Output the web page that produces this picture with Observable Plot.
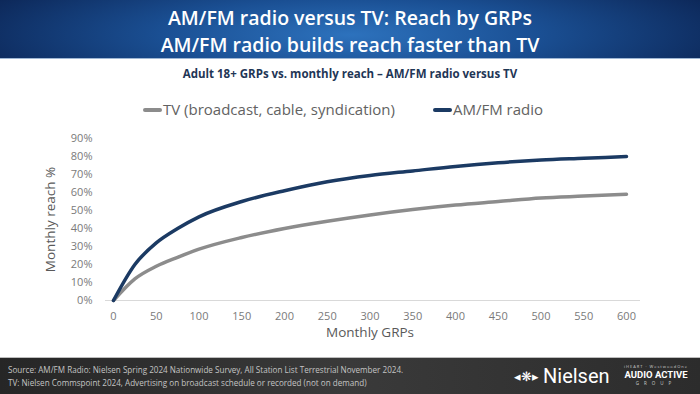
<!DOCTYPE html>
<html><head><meta charset="utf-8">
<script src="https://cdn.jsdelivr.net/npm/d3@7"></script>
<script src="https://cdn.jsdelivr.net/npm/@observablehq/plot@0.6"></script>
<style>
html,body{margin:0;padding:0;width:700px;height:394px;overflow:hidden;background:#fff;font-family:"Open Sans",sans-serif;}
#page{position:relative;width:700px;height:394px;}
#header{position:absolute;left:0;top:0;width:700px;height:58px;
 background:radial-gradient(ellipse 60% 140% at 50% 60%, #2d72bd 0%, #1a4f93 45%, #0b2352 100%);
 border-bottom:1px solid #9fb7d4;}
#header div{position:absolute;left:0;width:700px;text-align:center;color:#fff;font-size:19.5px;font-weight:600;}
#t1{top:4px;} #t2{top:31px;}
#sub{position:absolute;left:0;top:66px;width:700px;text-align:center;color:#1f3656;font-size:11.5px;font-weight:700;}
#legend{position:absolute;top:99px;left:0;width:700px;height:22px;font-size:15px;color:#626262;}
.lg{position:absolute;top:0;white-space:nowrap;}
.sw{display:inline-block;width:19px;height:4px;vertical-align:middle;margin-right:1px;border-radius:2px;position:relative;top:-1px;}
#chart{position:absolute;left:0;top:120px;}
#footer{position:absolute;left:0;top:357px;width:700px;height:37px;
 background:linear-gradient(90deg,#262626 0%,#3a3a3a 50%,#2c2c2c 100%);border-top:1px solid #bdbdbd;}
#src{position:absolute;left:8px;top:6px;color:#c4c4c4;font-size:8.1px;line-height:12.5px;}
#niel{position:absolute;left:514px;top:6px;color:#fff;font-size:20px;font-family:Roboto,sans-serif;}
#aag{position:absolute;left:616px;top:6px;width:80px;text-align:center;color:#fff;}
#aag .a{font-size:4px;color:#ccc;letter-spacing:1px;}
#aag .b{font-size:9.5px;font-weight:700;font-family:Roboto,sans-serif;line-height:11px;}
#aag .c{font-size:4.5px;color:#ccc;letter-spacing:5px;}
g[aria-label="y-axis label"] text, g[aria-label="x-axis label"] text{font-size:13.5px;fill:#595959;}
</style></head>
<body><div id="page">
<div id="header"><div id="t1"></div><div id="t2"></div></div>
<div id="sub"></div>
<div id="legend"></div>
<div id="chart"></div>
<div id="footer"><div id="src"></div>
<div id="niel"><span style="font-size:13px;vertical-align:2px;margin-right:4px">&#9666;&#10059;&#9656;</span>Nielsen</div>
<div id="aag"><div class="a">iHEART · WestwoodOne</div><div class="b">AUDIO ACTIVE</div><div class="c">GROUP</div></div>
</div>
</div>
<script>
const titleLines = ["AM/FM radio versus TV: Reach by GRPs", "AM/FM radio builds reach faster than TV"];
const subtitle = "Adult 18+ GRPs  vs.  monthly reach – AM/FM radio versus TV";
const seriesNames = ["TV (broadcast, cable, syndication)", "AM/FM radio"];
const seriesColors = ["#8c8c8c", "#1b3a63"];
const grps = [0, 25, 50, 75, 100, 150, 200, 250, 300, 350, 400, 450, 500, 550, 600];
const tvReach = [0, 0.12, 0.19, 0.24, 0.285, 0.35, 0.40, 0.44, 0.475, 0.505, 0.53, 0.55, 0.57, 0.58, 0.59];
const radioReach = [0, 0.20, 0.32, 0.40, 0.465, 0.55, 0.61, 0.66, 0.695, 0.72, 0.745, 0.765, 0.78, 0.79, 0.80];
const xTicks = [0, 50, 100, 150, 200, 250, 300, 350, 400, 450, 500, 550, 600];
const yTicks = [0, 0.1, 0.2, 0.3, 0.4, 0.5, 0.6, 0.7, 0.8, 0.9];
const xLabel = "Monthly GRPs";
const yLabel = "Monthly reach %";
const sourceLines = ["Source: AM/FM Radio: Nielsen Spring 2024 Nationwide Survey, All Station List Terrestrial November 2024.",
  "TV: Nielsen Commspoint 2024, Advertising on broadcast schedule or recorded (not on demand)"];

document.getElementById("t1").textContent = titleLines[0];
document.getElementById("t2").textContent = titleLines[1];
document.getElementById("sub").textContent = subtitle;
document.getElementById("src").innerHTML = sourceLines.join("<br>");
const legendPos = [143, 433];
const lg = document.getElementById("legend");
seriesNames.forEach((n, i) => {
  const d = document.createElement("div");
  d.className = "lg"; d.style.left = legendPos[i] + "px";
  d.innerHTML = `<span class="sw" style="background:${seriesColors[i]}"></span>`;
  d.appendChild(document.createTextNode(n));
  lg.appendChild(d);
});

const data = [];
grps.forEach((g, i) => {
  data.push({grp: g, reach: tvReach[i], series: seriesNames[0]});
  data.push({grp: g, reach: radioReach[i], series: seriesNames[1]});
});

const chart = Plot.plot({
  width: 700, height: 230,
  marginLeft: 113, marginRight: 74, marginTop: 18, marginBottom: 50,
  style: {fontFamily: "'Open Sans', sans-serif", fontSize: "11px", color: "#7a7a7a", background: "transparent"},
  x: {domain: [0, 600]},
  y: {domain: [0, 0.9]},
  color: {domain: seriesNames, range: seriesColors},
  marks: [
    Plot.ruleY([0], {stroke: "#d9d9d9", strokeWidth: 1, insetLeft: -8, insetRight: -14}),
    Plot.axisX({ticks: xTicks, tickSize: 0, tickPadding: 12, label: xLabel, labelAnchor: "center", labelArrow: "none", labelOffset: 36, fill: "#7a7a7a"}),
    Plot.axisY({ticks: yTicks, tickSize: 0, tickPadding: 21, tickFormat: d3.format(".0%"), label: yLabel, labelAnchor: "center", labelArrow: "none", labelOffset: 68, fill: "#7a7a7a"}),
    Plot.line(data, {x: "grp", y: "reach", stroke: "series", strokeWidth: 3.5, curve: "monotone-x"})
  ]
});
document.getElementById("chart").appendChild(chart);
</script>
</body></html>
